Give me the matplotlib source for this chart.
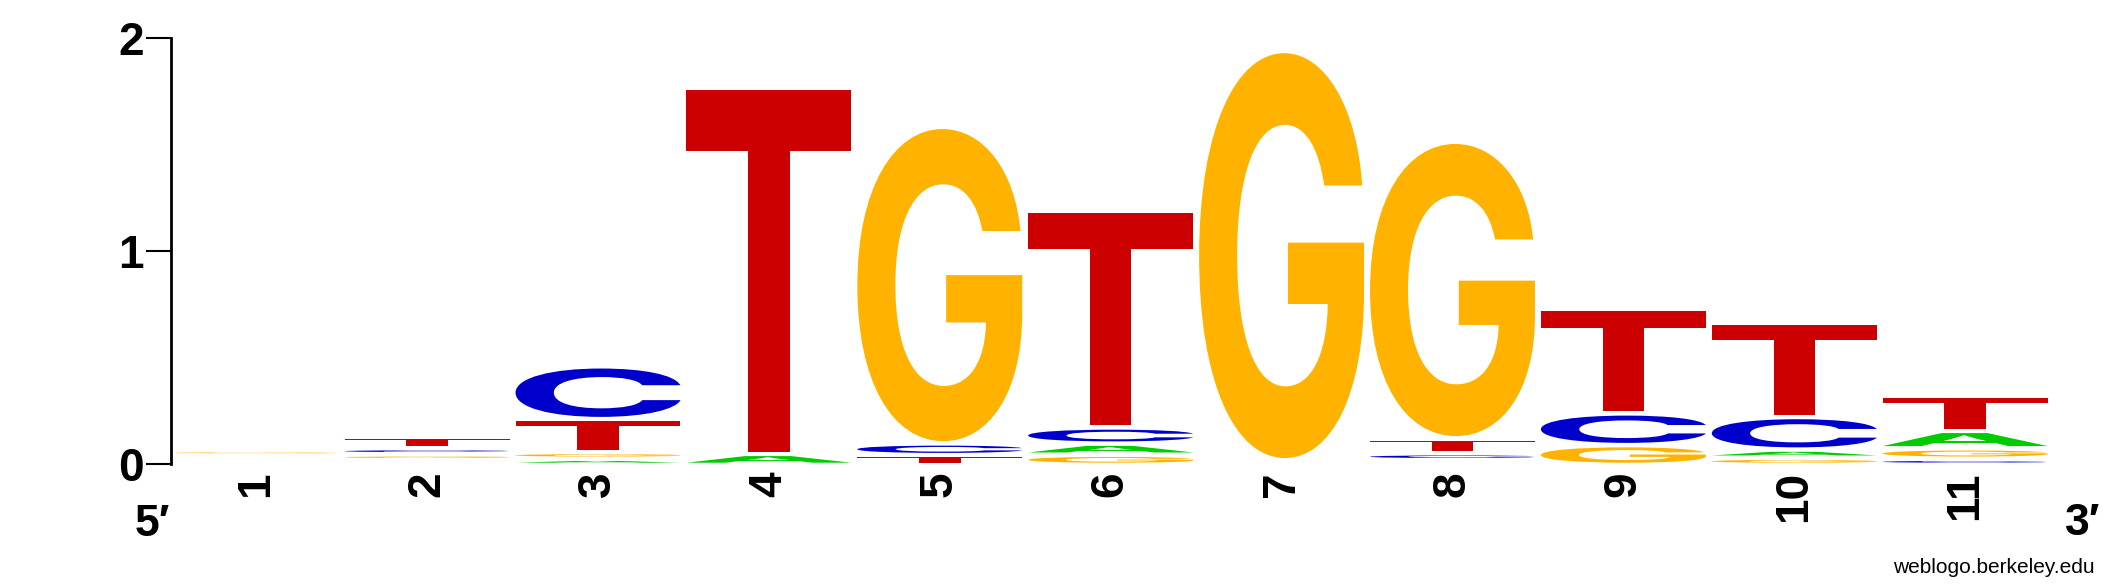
import matplotlib
matplotlib.use('Agg')
import matplotlib.pyplot as plt
from matplotlib.textpath import TextPath
from matplotlib.patches import PathPatch
from matplotlib.font_manager import FontProperties
from matplotlib.transforms import Affine2D

positions = list(range(1, 12))
# visible glyph heights in bits, read off the logo (0 = letter absent,
# 0.001 = letter present but too small to see, it still takes its gap)
A = [0.000, 0.001, 0.008, 0.031, 0.000, 0.031, 0.000, 0.001, 0.000, 0.017, 0.061]
C = [0.001, 0.008, 0.227, 0.000, 0.034, 0.055, 0.000, 0.012, 0.128, 0.132, 0.008]
G = [0.004, 0.007, 0.011, 0.000, 1.465, 0.027, 1.900, 1.371, 0.072, 0.013, 0.028]
T = [0.001, 0.033, 0.133, 1.697, 0.025, 0.997, 0.001, 0.049, 0.470, 0.423, 0.144]

colors = {'A': '#00CC00', 'C': '#0000CC', 'G': '#FFB300', 'T': '#CC0000'}
heights = {'A': A, 'C': C, 'G': G, 'T': T}

gap = 0.021      # white space weblogo leaves between stacked letters
base = 0.008
letter_w = 0.965

fp = FontProperties(family='Inter', weight='bold')
glyphs = {}
for b in 'ACGT':
    p = TextPath((0, 0), b, size=1, prop=fp)
    glyphs[b] = (p, p.get_extents())


def draw_letter(ax, b, x, y, w, h):
    p, ext = glyphs[b]
    tr = Affine2D().translate(-ext.x0, -ext.y0).scale(w / ext.width, h / ext.height).translate(x - w / 2, y)
    ax.add_patch(PathPatch(tr.transform_path(p), facecolor=colors[b], edgecolor='none'))


fig = plt.figure(figsize=(21.25, 5.88), dpi=100)
ax = fig.add_axes([0.08035, 0.2102, 0.965 - 0.08035, 0.9349 - 0.2102])
ax.set_xlim(0.5, 11.5)
ax.set_ylim(0, 2)

for i, pos in enumerate(positions):
    stack = sorted([(heights[b][i], b) for b in 'ACGT' if heights[b][i] > 0])
    y = base
    for h, b in stack:
        if h > 0.002:
            draw_letter(ax, b, pos, y, letter_w, h)
        y += h + gap

for s in ['top', 'right', 'bottom']:
    ax.spines[s].set_visible(False)
ax.spines['left'].set_linewidth(2.0)
ax.spines['left'].set_bounds(0, 2)

ax.set_yticks([0, 1, 2])
ax.set_yticklabels(['0', '1', '2'], fontsize=33, fontweight='bold', family='Liberation Sans')
ax.tick_params(axis='y', length=18, width=1.5, pad=1.5)

ax.set_xticks(positions)
ax.set_xticklabels([str(p) for p in positions], rotation=90, fontsize=33,
                   fontweight='bold', family='Liberation Sans')
ax.tick_params(axis='x', length=0, pad=5)

fig.text(170 / 2125, 0.0884, '5\u2032', ha='right', va='baseline', fontsize=32,
         fontweight='bold', family=['Liberation Sans', 'DejaVu Sans'])
fig.text(2065 / 2125, 0.0901, '3\u2032', ha='left', va='baseline', fontsize=32,
         fontweight='bold', family=['Liberation Sans', 'DejaVu Sans'])
fig.text(2095 / 2125, 0.025, 'weblogo.berkeley.edu', ha='right', va='baseline',
         fontsize=15, family='Liberation Sans')

fig.savefig('out.png', dpi=100)
